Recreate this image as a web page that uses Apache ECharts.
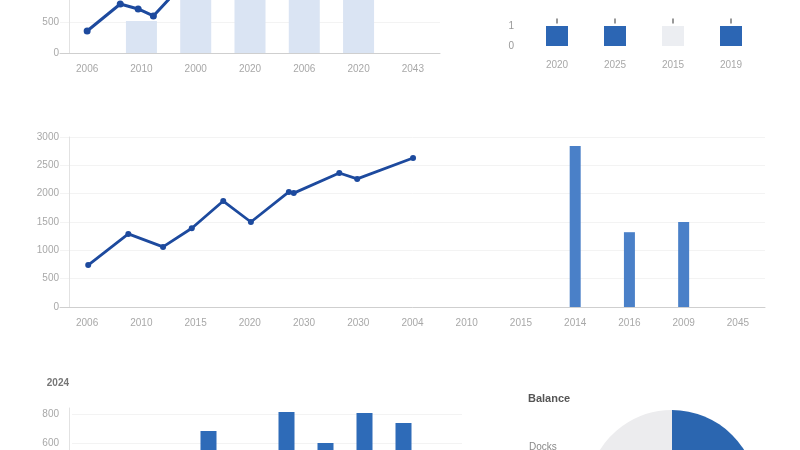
<!DOCTYPE html>
<html>
<head>
<meta charset="utf-8">
<script src="https://cdn.jsdelivr.net/npm/echarts@6/dist/echarts.min.js"></script>
<style>
  html, body { margin: 0; padding: 0; background: #fff; }
  #main { width: 800px; height: 450px; }
</style>
</head>
<body>
<div id="main"></div>
<script>
// top-left panel
var topYears = ['2006', '2010', '2000', '2020', '2006', '2020', '2043'];
var topBars = ['-', 516, 1100, 1100, 1100, 1100, '-'];
var topLine = [[0, 355], [0.61, 790], [0.94, 710], [1.22, 597], [1.7, 1050]];

// top-right panel
var boxYears = ['2020', '2025', '2015', '2019'];
var boxValues = [1, 1, 1, 1];
var boxMarks = [1.25, 1.25, 1.25, 1.25];

// middle panel
var midYears = ['2006', '2010', '2015', '2020', '2030', '2030', '2004', '2010', '2015', '2014', '2016', '2009', '2045'];
var midBars = ['-', '-', '-', '-', '-', '-', '-', '-', '-', 2840, 1320, 1500, '-'];
var midLine = [[0.02, 740], [0.76, 1290], [1.4, 1060], [1.93, 1390], [2.51, 1870], [3.02, 1500],
               [3.72, 2030], [3.81, 2010], [4.65, 2365], [4.98, 2260], [6.01, 2630]];

// bottom-left panel
var lowCats = ['1', '2', '3', '4', '5', '6', '7', '8', '9', '10'];
var lowBars = ['-', '-', '-', 683, '-', 814, 600, 807, 738, '-'];

// pie
var pieData = [
  { value: 40, name: 'Docks' },
  { value: 60, name: 'Other' }
];

var chart = echarts.init(document.getElementById('main'));

function plain(v) { return String(v); }
var labelStyle = { color: '#a8a8a8', fontSize: 10, margin: 10, formatter: plain };
var faintLine = { lineStyle: { color: '#f3f3f3' } };

option = {
  backgroundColor: '#ffffff',
  animation: false,
  title: [
    { text: 'Balance', left: 523, top: 388, textStyle: { color: '#555', fontSize: 11, fontWeight: 'bold' } },
    { text: 'Docks', left: 524, top: 437, textStyle: { color: '#888', fontSize: 10, fontWeight: 'normal' } }
  ],
  grid: [
    { left: 60, top: -9, width: 380, height: 62, outerBoundsMode: 'none' },
    { left: 528, top: 16, width: 232, height: 30, outerBoundsMode: 'none' },
    { left: 60, top: 137, width: 705, height: 170, outerBoundsMode: 'none' },
    { left: 72, top: 408, width: 390, height: 122, outerBoundsMode: 'none' }
  ],
  xAxis: [
    { type: 'category', gridIndex: 0, data: topYears,
      axisLine: { lineStyle: { color: '#cfcfcf' } }, axisTick: { show: false },
      axisLabel: { color: '#a8a8a8', fontSize: 10, margin: 11, interval: 0 } },
    { type: 'value', gridIndex: 0, min: -0.5, max: 6.5, show: false },
    { type: 'category', gridIndex: 1, data: boxYears,
      axisLine: { show: false }, axisTick: { show: false },
      axisLabel: { color: '#a8a8a8', fontSize: 10, margin: 14 } },
    { type: 'category', gridIndex: 2, data: midYears,
      axisLine: { lineStyle: { color: '#cfcfcf' } }, axisTick: { show: false },
      axisLabel: { color: '#a8a8a8', fontSize: 10, margin: 11, interval: 0 } },
    { type: 'value', gridIndex: 2, min: -0.5, max: 12.5, show: false },
    { type: 'category', gridIndex: 3, data: lowCats,
      axisLine: { show: false }, axisTick: { show: false }, axisLabel: { show: false } }
  ],
  yAxis: [
    { type: 'value', gridIndex: 0, min: 0, max: 1000, interval: 500, offset: -9,
      axisLine: { show: true, onZero: false, lineStyle: { color: '#e2e2e2' } },
      axisTick: { show: false },
      axisLabel: labelStyle, splitLine: faintLine },
    { type: 'value', gridIndex: 1, min: 0, max: 1.5, interval: 1,
      axisLine: { show: false }, axisTick: { show: false }, splitLine: { show: false },
      axisLabel: { color: '#999', fontSize: 10, margin: 14, showMaxLabel: false } },
    { type: 'value', gridIndex: 2, min: 0, max: 3000, interval: 500, offset: -9,
      axisLine: { show: true, onZero: false, lineStyle: { color: '#e2e2e2' } },
      axisTick: { show: false },
      axisLabel: labelStyle, splitLine: faintLine },
    { type: 'value', gridIndex: 3, min: 0, max: 841, interval: 200, offset: 3,
      name: '2024', nameLocation: 'end', nameGap: 20,
      nameTextStyle: { color: '#777', fontSize: 10, fontWeight: 'bold', align: 'right' },
      axisLine: { show: true, onZero: false, lineStyle: { color: '#e2e2e2' } },
      axisTick: { show: false },
      axisLabel: { color: '#a8a8a8', fontSize: 10, margin: 10, showMaxLabel: false, formatter: plain },
      splitLine: { lineStyle: { color: '#f3f3f3' }, showMaxLine: false } }
  ],
  series: [
    {
      name: 'top bars', type: 'bar', xAxisIndex: 0, yAxisIndex: 0,
      data: topBars, barWidth: 31,
      itemStyle: { color: '#dae4f3' }
    },
    {
      name: 'top line', type: 'line', xAxisIndex: 1, yAxisIndex: 0,
      data: topLine, symbol: 'circle', symbolSize: 7,
      lineStyle: { color: '#1d4a9e', width: 3 },
      itemStyle: { color: '#1d4a9e' }
    },
    {
      name: 'boxes', type: 'bar', xAxisIndex: 2, yAxisIndex: 1,
      barWidth: 22,
      data: boxValues.map(function (v, i) {
        return { value: v, itemStyle: { color: i === 2 ? '#eceef2' : '#2c66b4' } };
      })
    },
    {
      name: 'marks', type: 'scatter', xAxisIndex: 2, yAxisIndex: 1,
      data: boxMarks, symbol: 'rect', symbolSize: [1.5, 5],
      itemStyle: { color: '#555' }
    },
    {
      name: 'mid bars', type: 'bar', xAxisIndex: 3, yAxisIndex: 2,
      data: midBars, barWidth: 11,
      itemStyle: { color: '#4a80c8' }
    },
    {
      name: 'mid line', type: 'line', xAxisIndex: 4, yAxisIndex: 2,
      data: midLine, symbol: 'circle', symbolSize: 6,
      lineStyle: { color: '#1d4a9e', width: 2.8 },
      itemStyle: { color: '#1d4a9e' }
    },
    {
      name: 'low bars', type: 'bar', xAxisIndex: 5, yAxisIndex: 3,
      data: lowBars, barWidth: 16,
      itemStyle: { color: '#2e6bb8' }
    },
    {
      name: 'pie', type: 'pie',
      center: [672, 495], radius: 85,
      startAngle: 90, clockwise: true,
      label: { show: false }, labelLine: { show: false },
      color: ['#2b66b0', '#ececee'],
      data: pieData
    }
  ]
};

chart.setOption(option);
</script>
</body>
</html>
